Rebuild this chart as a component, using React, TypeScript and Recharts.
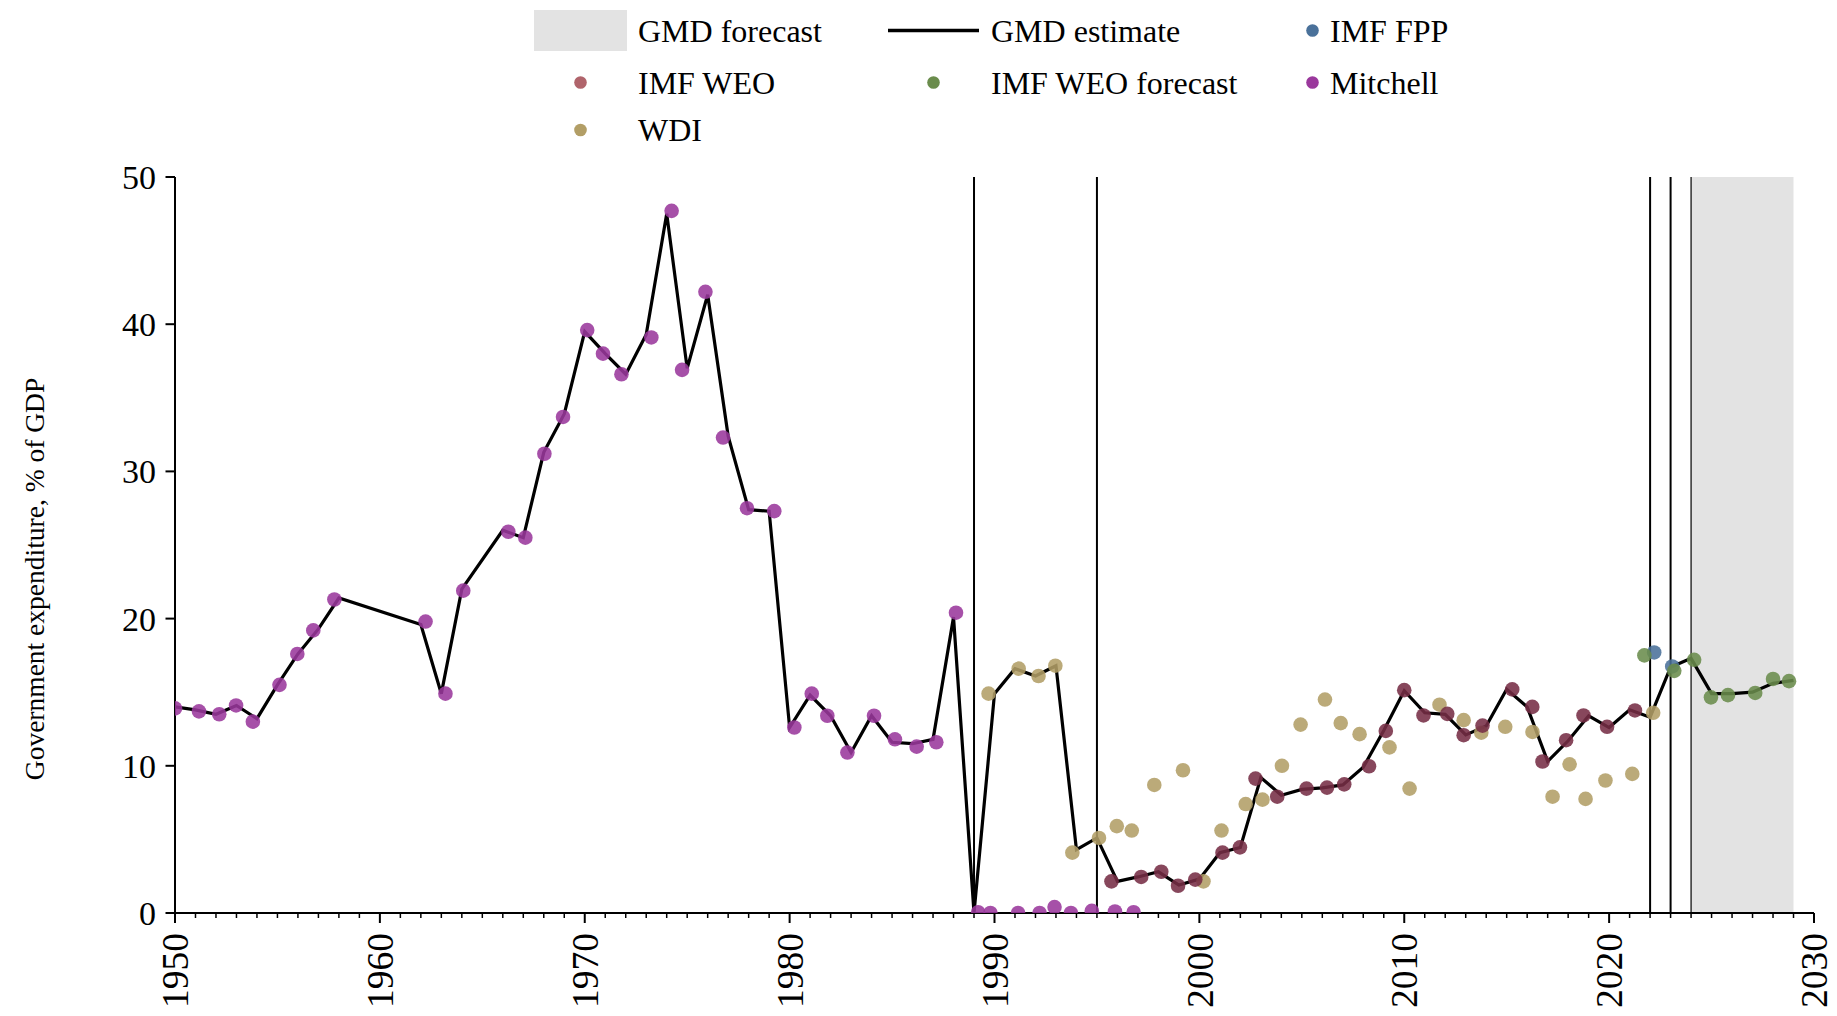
import React from 'react';
import {
  ComposedChart,
  Line,
  Scatter,
  XAxis,
  YAxis,
  ReferenceLine,
  ReferenceArea,
} from 'recharts';

const FONT = '"Liberation Serif", "Times New Roman", Times, serif';

// ---------------- data ----------------
const gmdYears = [
  1950, 1951, 1952, 1953, 1954, 1955, 1956, 1957, 1958, 1962, 1963, 1964, 1966, 1967, 1968, 1969,
  1970, 1971, 1972, 1973, 1974, 1975, 1976, 1977, 1978, 1979, 1980, 1981, 1982, 1983, 1984, 1985,
  1986, 1987, 1988, 1989, 1990, 1991, 1992, 1993, 1994, 1995, 1996, 1997, 1998, 1999, 2000, 2001,
  2002, 2003, 2004, 2005, 2006, 2007, 2008, 2009, 2010, 2011, 2012, 2013, 2014, 2015, 2016, 2017,
  2018, 2019, 2020, 2021, 2022, 2023, 2024, 2025, 2026, 2027, 2028, 2029,
];
const gmdValues = [
  14.0, 13.8, 13.5, 14.1, 13.2, 15.5, 17.6, 19.3, 21.4, 19.6, 14.9, 22.0, 26.0, 25.5, 31.3, 33.9,
  39.5, 38.0, 36.6, 39.3, 47.5, 37.0, 42.0, 32.4, 27.4, 27.3, 12.6, 14.8, 13.4, 10.9, 13.4, 11.6,
  11.5, 11.8, 20.1, 0.0, 14.9, 16.6, 16.1, 16.8, 4.3, 5.1, 2.15, 2.45, 2.8, 1.9, 2.3, 4.1,
  4.45, 9.2, 8.0, 8.4, 8.5, 8.7, 9.9, 12.4, 15.1, 13.6, 13.5, 12.1, 12.7, 15.2, 14.0, 10.3,
  11.7, 13.4, 12.6, 13.8, 13.3, 16.7, 17.3, 14.9, 14.9, 15.0, 15.6, 15.8,
];

const mitchellYears = [
  1950.0, 1951.17, 1952.16, 1952.98, 1953.8, 1955.1, 1955.97, 1956.75, 1957.78, 1962.23, 1963.2,
  1964.07, 1966.27, 1967.1, 1968.03, 1968.94, 1970.12, 1970.89, 1971.79, 1973.25, 1974.24, 1974.75,
  1975.89, 1976.75, 1977.92, 1979.25, 1980.23, 1981.08, 1981.84, 1982.82, 1984.12, 1985.14, 1986.2,
  1987.16, 1988.12, 1989.2, 1989.8, 1991.15, 1992.2, 1992.93, 1993.73, 1994.75, 1995.88, 1996.79,
];
const mitchellValues = [
  13.9, 13.7, 13.5, 14.1, 13.0, 15.5, 17.6, 19.2, 21.3, 19.8, 14.9, 21.9, 25.9, 25.5, 31.2, 33.7,
  39.6, 38.0, 36.6, 39.1, 47.7, 36.9, 42.2, 32.3, 27.5, 27.3, 12.6, 14.9, 13.4, 10.9, 13.4, 11.8,
  11.3, 11.6, 20.4, 0.05, 0.0, 0.0, 0.0, 0.4, 0.0, 0.15, 0.1, 0.05,
];

const wdiYears = [
  1989.71, 1991.18, 1992.15, 1992.97, 1993.8, 1995.1, 1995.97, 1996.7, 1997.8, 1999.2, 2000.2,
  2001.08, 2002.26, 2003.08, 2004.03, 2004.94, 2006.13, 2006.9, 2007.82, 2009.28, 2010.26, 2011.72,
  2012.9, 2013.76, 2014.93, 2016.26, 2017.24, 2018.07, 2018.85, 2019.82, 2021.13, 2022.15,
];
const wdiValues = [
  14.9, 16.6, 16.1, 16.8, 4.1, 5.1, 5.9, 5.6, 8.7, 9.7, 2.15, 5.6, 7.4, 7.7, 10.0, 12.8, 14.5, 12.9,
  12.15, 11.25, 8.45, 14.15, 13.1, 12.25, 12.65, 12.3, 7.9, 10.1, 7.75, 9.0, 9.45, 13.6,
];

const weoYears = [
  1995.71, 1997.16, 1998.14, 1998.96, 1999.8, 2001.13, 2001.98, 2002.74, 2003.8, 2005.23, 2006.23,
  2007.07, 2008.28, 2009.1, 2010.0, 2010.94, 2012.1, 2012.9, 2013.82, 2015.27, 2016.25, 2016.75,
  2017.9, 2018.75, 2019.9, 2021.26,
];
const weoValues = [
  2.15, 2.45, 2.8, 1.85, 2.27, 4.1, 4.46, 9.13, 7.9, 8.45, 8.52, 8.74, 9.97, 12.37, 15.14, 13.42,
  13.53, 12.08, 12.73, 15.19, 14.0, 10.29, 11.74, 13.42, 12.65, 13.76,
];

const weoForecastYears = [2021.72, 2023.18, 2024.15, 2024.97, 2025.8, 2027.13, 2028.0, 2028.78];
const weoForecastValues = [17.5, 16.45, 17.2, 14.65, 14.8, 14.95, 15.9, 15.75];

const fppYears = [2022.2, 2023.08];
const fppValues = [17.7, 16.75];

const breakYears = [1989, 1995, 2022, 2023];
const forecastStart = 2024;
const forecastEnd = 2029;

const xMajorTicks = [1950, 1960, 1970, 1980, 1990, 2000, 2010, 2020, 2030];
const yTicks = [0, 10, 20, 30, 40, 50];

const yTitle = 'Government expenditure, % of GDP';

// ---------------- styles ----------------
const COLORS = {
  mitchell: '#9a389c',
  wdi: '#b29e66',
  weo: '#762e45',
  weoLegend: '#b0646b',
  weoForecast: '#6a8c4c',
  fpp: '#4a719a',
  forecastArea: '#e3e3e3',
};

const zip = (xs: number[], vs: number[]) => xs.map((x, i) => ({ year: x, v: vs[i] }));

const gmdData = zip(gmdYears, gmdValues);
const mitchellData = zip(mitchellYears, mitchellValues);
const wdiData = zip(wdiYears, wdiValues);
const weoData = zip(weoYears, weoValues);
const weoForecastData = zip(weoForecastYears, weoForecastValues);
const fppData = zip(fppYears, fppValues);

const allXTicks: number[] = [];
for (let y = xMajorTicks[0]; y <= xMajorTicks[xMajorTicks.length - 1]; y++) allXTicks.push(y);

const W = 1826;
const H = 1000;

const XTick = (props: any) => {
  const { x, y, payload } = props;
  const v = payload.value;
  const major = xMajorTicks.includes(v);
  const ly = y + 20;
  return (
    <g>
      <line x1={x} x2={x} y1={y} y2={y + (major ? 10 : 5)} stroke="#000" strokeWidth={major ? 2 : 1.5} />
      {major && (
        <text
          x={x}
          y={ly}
          transform={`rotate(-90, ${x}, ${ly})`}
          textAnchor="end"
          dy="0.35em"
          fontSize={37.5}
          fontFamily={FONT}
          fill="#000"
        >
          {v}
        </text>
      )}
    </g>
  );
};

const YTick = (props: any) => {
  const { x, y, payload } = props;
  return (
    <g>
      <line x1={x - 9.5} x2={x} y1={y} y2={y} stroke="#000" strokeWidth={2} />
      <text x={x - 19} y={y} dy="0.35em" textAnchor="end" fontSize={34} fontFamily={FONT} fill="#000">
        {payload.value}
      </text>
    </g>
  );
};

const dotShape = (color: string) => (props: any) => {
  const { cx, cy } = props;
  if (cx == null || cy == null) return <g />;
  return <circle cx={cx} cy={cy} r={7.3} fill={color} fillOpacity={0.88} />;
};

type LegendItem = { name: string; kind: 'rect' | 'line' | 'dot'; color: string; col: number; row: number };
const legendItems: LegendItem[] = [
  { name: 'GMD forecast', kind: 'rect', color: COLORS.forecastArea, col: 0, row: 0 },
  { name: 'GMD estimate', kind: 'line', color: '#000', col: 1, row: 0 },
  { name: 'IMF FPP', kind: 'dot', color: COLORS.fpp, col: 2, row: 0 },
  { name: 'IMF WEO', kind: 'dot', color: COLORS.weoLegend, col: 0, row: 1 },
  { name: 'IMF WEO forecast', kind: 'dot', color: COLORS.weoForecast, col: 1, row: 1 },
  { name: 'Mitchell', kind: 'dot', color: COLORS.mitchell, col: 2, row: 1 },
  { name: 'WDI', kind: 'dot', color: COLORS.wdi, col: 0, row: 2 },
];

const colSymbolCenter = [572.5, 925.5, 1304.5];
const colTextX = [630, 983, 1322];
const rowCenter = [22.5, 74.5, 122];

const LegendOverlay = () => (
  <svg
    width={W}
    height={160}
    style={{ position: 'absolute', left: 0, top: 0, pointerEvents: 'none' }}
  >
    {legendItems.map((it) => {
      const cx = colSymbolCenter[it.col];
      const cy = rowCenter[it.row];
      let sym: React.ReactNode = null;
      if (it.kind === 'rect') sym = <rect x={cx - 46.5} y={cy - 20.5} width={93} height={41} fill={it.color} />;
      else if (it.kind === 'line')
        sym = <line x1={cx - 45.5} x2={cx + 45.5} y1={cy} y2={cy} stroke={it.color} strokeWidth={3.3} />;
      else sym = <circle cx={cx} cy={cy} r={6.3} fill={it.color} />;
      return (
        <g key={it.name}>
          {sym}
          <text x={colTextX[it.col]} y={cy + 11} fontSize={32} fontFamily={FONT} fill="#000">
            {it.name}
          </text>
        </g>
      );
    })}
  </svg>
);

const YTitle = (props: any) => {
  const vb = props.viewBox || {};
  const cx = 26;
  const cy = (vb.y ?? 0) + (vb.height ?? 0) / 2 + 34;
  return (
    <text
      x={cx}
      y={cy}
      transform={`rotate(-90, ${cx}, ${cy})`}
      textAnchor="middle"
      dy="0.35em"
      fontSize={27.5}
      fontFamily={FONT}
      fill="#000"
    >
      {yTitle}
    </text>
  );
};

export default function App() {
  return (
    <div style={{ position: 'relative', width: W, height: H }}>
      <ComposedChart width={W} height={H} margin={{ top: 169, right: 20, bottom: 0, left: 0 }}>
        <ReferenceArea
          x1={forecastStart}
          x2={forecastEnd}
          y1={0}
          y2={50}
          fill={COLORS.forecastArea}
          fillOpacity={1}
          stroke="none"
        />
        <XAxis
          dataKey="year"
          type="number"
          domain={[xMajorTicks[0], xMajorTicks[xMajorTicks.length - 1]]}
          ticks={allXTicks}
          interval={0}
          tickSize={0}
          tickMargin={0}
          tickLine={false}
          tick={<XTick />}
          axisLine={{ stroke: '#000', strokeWidth: 2 }}
          height={95}
          allowDataOverflow
        />
        <YAxis
          type="number"
          domain={[0, 50]}
          ticks={yTicks}
          interval={0}
          tickSize={0}
          tickMargin={0}
          tickLine={false}
          tick={<YTick />}
          axisLine={{ stroke: '#000', strokeWidth: 2 }}
          width={167}
          label={<YTitle />}
          allowDataOverflow
        />
        {breakYears.map((b) => (
          <ReferenceLine key={b} x={b} stroke="#000" strokeWidth={2} />
        ))}
        <ReferenceLine x={forecastStart} stroke="#000" strokeWidth={1.2} />
        <Line
          data={gmdData}
          dataKey="v"
          stroke="#000"
          strokeWidth={3.2}
          dot={false}
          activeDot={false}
          isAnimationActive={false}
          strokeLinejoin="miter"
        />
        <Scatter data={wdiData} dataKey="v" shape={dotShape(COLORS.wdi)} isAnimationActive={false} />
        <Scatter data={weoData} dataKey="v" shape={dotShape(COLORS.weo)} isAnimationActive={false} />
        <Scatter data={mitchellData} dataKey="v" shape={dotShape(COLORS.mitchell)} isAnimationActive={false} />
        <Scatter data={fppData} dataKey="v" shape={dotShape(COLORS.fpp)} isAnimationActive={false} />
        <Scatter
          data={weoForecastData}
          dataKey="v"
          shape={dotShape(COLORS.weoForecast)}
          isAnimationActive={false}
        />
      </ComposedChart>
      <LegendOverlay />
    </div>
  );
}
